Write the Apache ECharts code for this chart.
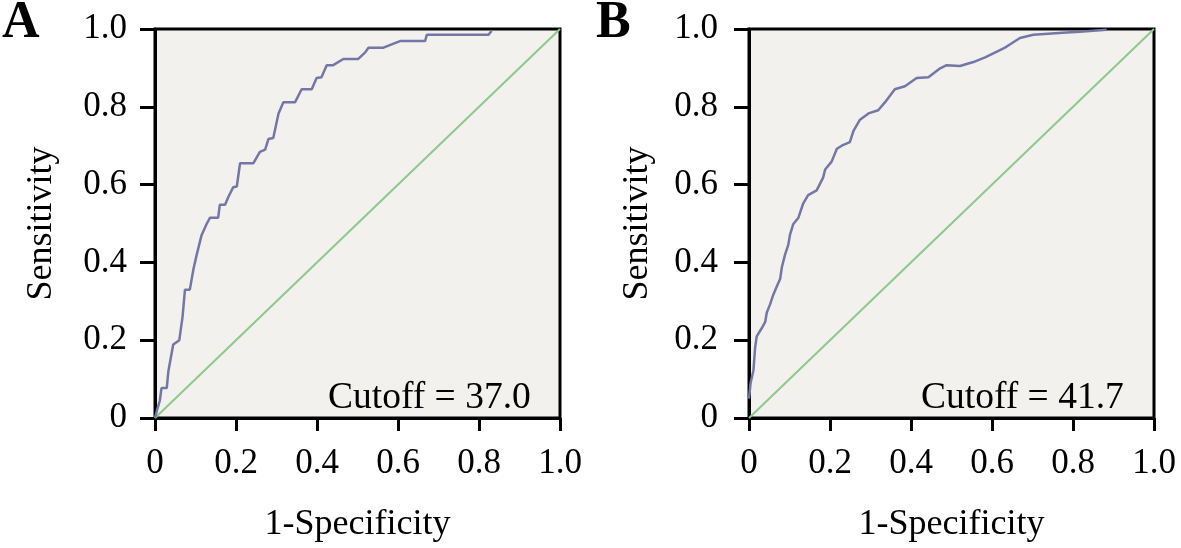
<!DOCTYPE html>
<html><head><meta charset="utf-8">
<script src="https://cdn.jsdelivr.net/npm/echarts@6/dist/echarts.min.js"></script>
<style>html,body{margin:0;padding:0;background:#fff}#c{width:1181px;height:548px}</style>
</head><body><div id="c"></div>
<script>
// Panel A ROC curve (1-specificity, sensitivity)
const fprA = [0,0.005,0.012,0.016,0.029,0.033,0.045,0.06,0.068,0.074,0.086,0.095,0.103,0.115,0.128,0.136,0.156,0.16,0.173,0.181,0.193,0.202,0.21,0.243,0.259,0.272,0.28,0.292,0.305,0.317,0.346,0.362,0.387,0.399,0.411,0.424,0.44,0.465,0.502,0.519,0.527,0.564,0.605,0.667,0.671,0.823,0.831];
const tprA = [0,0.02,0.045,0.077,0.077,0.12,0.189,0.2,0.26,0.33,0.33,0.383,0.42,0.47,0.5,0.515,0.515,0.548,0.548,0.568,0.593,0.595,0.655,0.655,0.684,0.69,0.717,0.72,0.783,0.812,0.812,0.845,0.845,0.874,0.876,0.907,0.907,0.923,0.923,0.94,0.952,0.952,0.969,0.969,0.985,0.985,0.995];
// Panel B ROC curve
const fprB = [0,0.004,0.011,0.015,0.019,0.031,0.04,0.044,0.052,0.06,0.068,0.077,0.081,0.089,0.097,0.101,0.109,0.122,0.134,0.146,0.167,0.183,0.188,0.204,0.217,0.229,0.249,0.258,0.274,0.295,0.319,0.336,0.36,0.385,0.414,0.443,0.472,0.488,0.521,0.554,0.583,0.616,0.632,0.644,0.669,0.702,0.784,0.817,0.883];
const tprB = [0.05,0.09,0.123,0.18,0.21,0.23,0.247,0.271,0.292,0.317,0.337,0.358,0.387,0.42,0.445,0.47,0.498,0.515,0.552,0.573,0.585,0.618,0.639,0.659,0.692,0.70,0.709,0.738,0.767,0.783,0.791,0.812,0.845,0.853,0.874,0.876,0.899,0.907,0.905,0.915,0.927,0.944,0.952,0.96,0.977,0.985,0.991,0.993,0.998];
const diag = [0, 1];
const panelLabels = ['A', 'B'];
const cutoffs = ['Cutoff = 37.0', 'Cutoff = 41.7'];
const xName = '1-Specificity';
const yName = 'Sensitivity';

const FONT = '"Liberation Serif", "DejaVu Serif", serif';
const fmt = v => v === 0 ? '0' : v.toFixed(1);
const pairs = (xs, ys) => xs.map((x, i) => [x, ys[i]]);

const lefts = [155, 749];
const yMargins = [28, 31];
const yGaps = [95, 93];
const grid = lefts.map(l => ({left: l, top: 29, width: 405, height: 404, show: true,
  backgroundColor: '#f2f1ee', borderColor: '#000', borderWidth: 3}));
const axisCommon = {type: 'value', min: 0, max: 1, interval: 0.2,
  axisLine: {show: true, lineStyle: {color: '#000', width: 3}},
  splitLine: {show: false},
  nameTextStyle: {fontFamily: FONT, fontSize: 36, color: '#000'},
  axisLabel: {formatter: fmt, fontFamily: FONT, fontSize: 35, color: '#000'}};
const xAxis = [0, 1].map(i => Object.assign({}, axisCommon, {gridIndex: i, name: xName,
  nameLocation: 'middle', nameGap: 89,
  axisTick: {show: true, length: 13, lineStyle: {color: '#000', width: 3}},
  axisLabel: Object.assign({}, axisCommon.axisLabel, {margin: 28})}));
const yAxis = [0, 1].map(i => Object.assign({}, axisCommon, {gridIndex: i, name: yName,
  nameLocation: 'middle', nameGap: yGaps[i],
  axisTick: {show: true, length: 15, lineStyle: {color: '#000', width: 3}},
  axisLabel: Object.assign({}, axisCommon.axisLabel, {margin: yMargins[i]})}));

const series = [];
[[fprA, tprA], [fprB, tprB]].forEach((d, i) => {
  series.push({type: 'line', xAxisIndex: i, yAxisIndex: i, data: pairs(diag, diag),
    symbol: 'none', lineStyle: {color: '#8dc98a', width: 2}, silent: true});
  series.push({type: 'line', xAxisIndex: i, yAxisIndex: i, data: pairs(d[0], d[1]),
    symbol: 'none', lineStyle: {color: '#7377a6', width: 2.5}, silent: true});
});

const graphic = [];
panelLabels.forEach((t, i) => graphic.push({type: 'text', left: [2, 596][i], top: -2,
  style: {text: t, fontFamily: FONT, fontSize: 52, fontWeight: 'bold', fill: '#000'}}));
cutoffs.forEach((t, i) => graphic.push({type: 'text', left: [328, 921][i], top: 379,
  style: {text: t, fontFamily: FONT, fontSize: 37.5, fill: '#000'}}));

const chart = echarts.init(document.getElementById('c'), null, {renderer: 'canvas'});
chart.setOption({animation: false, backgroundColor: '#fff', grid, xAxis, yAxis, series, graphic});
</script></body></html>
